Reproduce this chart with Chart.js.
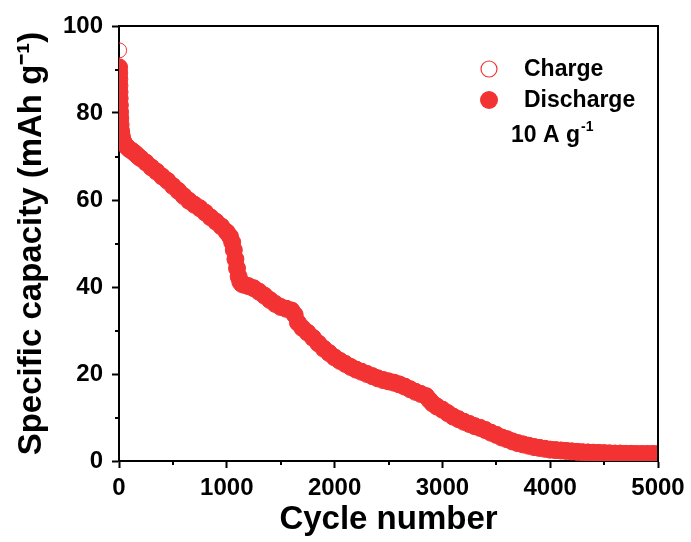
<!DOCTYPE html>
<html>
<head>
<meta charset="utf-8">
<script src="https://cdn.jsdelivr.net/npm/chart.js@4/dist/chart.umd.min.js"></script>
<style>
  html, body { margin: 0; padding: 0; background: #ffffff; }
  #wrap { width: 691px; height: 542px; }
</style>
</head>
<body>
<div id="wrap"><canvas id="c" width="691" height="542"></canvas></div>
<script>
// ---- data ----
const cycles = [1,2,3,4,5,6,8,10,12,15,20,25,30,40,50,75,100,125,150,175,200,250,300,350,400,450,500,550,600,650,700,750,800,850,900,950,1000,1030,1050,1065,1080,1095,1110,1125,1140,1160,1200,1250,1300,1350,1400,1450,1500,1550,1600,1630,1660,1700,1750,1800,1850,1900,1950,2000,2050,2100,2150,2200,2250,2300,2350,2400,2450,2500,2550,2600,2650,2700,2750,2800,2850,2880,2910,2950,3000,3050,3100,3150,3200,3250,3300,3350,3400,3450,3500,3550,3600,3650,3700,3750,3800,3850,3900,3950,4000,4050,4100,4150,4200,4250,4300,4350,4400,4450,4500,4550,4600,4650,4700,4750,4800,4850,4900,4950,5000];

const dischargeCapacity = [90.5,89.2,87.8,86.3,84.8,83.4,81.8,80.2,78.8,77.3,75.8,74.8,74.1,73.4,72.9,72.2,71.6,71.2,70.7,70.1,69.6,68.6,67.5,66.5,65.4,64.4,63.2,62.1,60.9,59.8,58.9,58.1,57.1,56.0,55.0,53.9,52.6,51.6,50.3,48.5,46.4,44.3,42.4,41.2,40.7,40.5,40.2,39.7,38.9,38.0,37.0,36.1,35.4,35.0,34.6,33.6,31.8,30.6,29.5,28.3,27.0,25.8,24.8,23.8,23.0,22.3,21.6,21.0,20.5,20.0,19.5,19.0,18.6,18.3,18.0,17.6,17.1,16.5,15.9,15.4,14.9,14.0,13.2,12.5,11.8,11.0,10.2,9.6,9.0,8.5,8.0,7.6,7.1,6.5,6.0,5.4,5.0,4.5,4.1,3.8,3.5,3.2,3.0,2.8,2.6,2.5,2.4,2.3,2.2,2.1,2.0,1.95,1.9,1.85,1.8,1.75,1.7,1.7,1.65,1.65,1.6,1.6,1.6,1.6,1.6];

const chargeCapacity = [94.4,89.4,88.0,86.5,85.0,83.6,82.0,80.4,79.0,77.5,76.0,75.0,74.3,73.6,73.1,72.4,71.8,71.4,70.9,70.3,69.8,68.8,67.7,66.7,65.6,64.6,63.4,62.3,61.1,60.0,59.1,58.3,57.3,56.2,55.2,54.1,52.8,51.8,50.5,48.7,46.6,44.5,42.6,41.4,40.9,40.7,40.4,39.9,39.1,38.2,37.2,36.3,35.6,35.2,34.8,33.8,32.0,30.8,29.7,28.5,27.2,26.0,25.0,24.0,23.2,22.5,21.8,21.2,20.7,20.2,19.7,19.2,18.8,18.5,18.2,17.8,17.3,16.7,16.1,15.6,15.1,14.2,13.4,12.7,12.0,11.2,10.4,9.8,9.2,8.7,8.2,7.8,7.3,6.7,6.2,5.6,5.2,4.7,4.3,4.0,3.7,3.4,3.2,3.0,2.8,2.7,2.6,2.5,2.4,2.3,2.2,2.15,2.1,2.05,2.0,1.95,1.9,1.9,1.85,1.85,1.8,1.8,1.8,1.8,1.8];

const xTicks = [0,1000,2000,3000,4000,5000];
const yTicks = [0,20,40,60,80,100];
const xMinorTicks = [500,1500,2500,3500,4500];
const yMinorTicks = [10,30,50,70,90];
const seriesNames = ['Charge','Discharge'];
const currentNote = ['10 A g', '-1'];

// ---- styles ----
const RED = 'rgb(243,51,51)';
const FONT = "'Liberation Sans', Arial, Helvetica, sans-serif";

const toPts = (ys) => cycles.map((x, i) => ({x: x, y: ys[i]}));

const framePlugin = {
  id: 'frameAndExtras',
  afterDraw(chart) {
    const ctx = chart.ctx;
    const a = chart.chartArea;
    const xs = chart.scales.x, ys = chart.scales.y;
    ctx.save();
    ctx.strokeStyle = '#000';
    ctx.lineWidth = 2;
    ctx.beginPath();
    ctx.moveTo(a.left - 1, a.top);
    ctx.lineTo(a.right, a.top);
    ctx.lineTo(a.right, a.bottom);
    ctx.stroke();
    ctx.beginPath();
    xMinorTicks.forEach(v => {
      const p = Math.round(xs.getPixelForValue(v));
      ctx.moveTo(p, a.bottom); ctx.lineTo(p, a.bottom + 4);
    });
    yMinorTicks.forEach(v => {
      const p = Math.round(ys.getPixelForValue(v));
      ctx.moveTo(a.left, p); ctx.lineTo(a.left - 4, p);
    });
    ctx.stroke();

    // legend
    const lx = a.left + 370, ly1 = a.top + 43, ly2 = a.top + 74;
    ctx.lineWidth = 1.2;
    ctx.strokeStyle = RED;
    ctx.beginPath(); ctx.arc(lx, ly1, 8, 0, Math.PI * 2); ctx.stroke();
    ctx.fillStyle = RED;
    ctx.beginPath(); ctx.arc(lx, ly2, 9, 0, Math.PI * 2); ctx.fill();
    ctx.fillStyle = '#000';
    ctx.font = 'bold 23px ' + FONT;
    ctx.textBaseline = 'middle';
    ctx.textAlign = 'left';
    ctx.fillText(seriesNames[0], lx + 35, ly1 + 1);
    ctx.fillText(seriesNames[1], lx + 35, ly2 + 1);
    const ny = a.top + 110;
    ctx.fillText(currentNote[0], lx + 22, ny);
    const w = ctx.measureText(currentNote[0]).width;
    ctx.font = 'bold 14px ' + FONT;
    ctx.fillText(currentNote[1], lx + 22 + w + 1, ny - 9);
    ctx.restore();
  }
};

new Chart(document.getElementById('c'), {
  type: 'scatter',
  data: {
    datasets: [
      {
        label: seriesNames[0],
        data: toPts(chargeCapacity),
        pointRadius: 7.5,
        pointHoverRadius: 7.5,
        pointBorderWidth: 1,
        pointBorderColor: RED,
        pointBackgroundColor: 'rgba(255,255,255,0)',
        showLine: false,
        clip: {left: 0, top: 0, right: 0, bottom: 0},
        order: 2
      },
      {
        label: seriesNames[1],
        data: toPts(dischargeCapacity),
        pointRadius: 8.5,
        pointHoverRadius: 8.5,
        pointBorderWidth: 1,
        pointBorderColor: RED,
        pointBackgroundColor: RED,
        showLine: false,
        clip: {left: 0, top: 0, right: 0, bottom: 0},
        order: 1
      }
    ]
  },
  options: {
    responsive: false,
    animation: false,
    devicePixelRatio: 1,
    layout: { padding: { top: 26, right: 33, bottom: 0, left: 0 } },
    plugins: { legend: { display: false }, tooltip: { enabled: false } },
    scales: {
      x: {
        type: 'linear',
        min: 0, max: 5000,
        z: 1,
        afterFit(s) { s.height = 81; },
        afterBuildTicks(s) { s.ticks = xTicks.map(v => ({value: v})); },
        ticks: { color: '#000', font: { family: FONT, size: 24, weight: 'bold' }, padding: 6, maxRotation: 0, callback: (v) => String(v) },
        grid: { drawOnChartArea: false, drawTicks: true, tickLength: 7, tickWidth: 2, tickColor: '#000' },
        border: { display: true, color: '#000', width: 2 },
        title: { display: true, text: 'Cycle number', color: '#000', font: { family: FONT, size: 33, weight: 'bold' }, padding: { top: 0, bottom: 2 } }
      },
      y: {
        type: 'linear',
        min: 0, max: 100,
        z: 1,
        afterFit(s) { s.width = 119; },
        afterBuildTicks(s) { s.ticks = yTicks.map(v => ({value: v})); },
        ticks: { color: '#000', font: { family: FONT, size: 24, weight: 'bold' }, padding: 9, callback: (v) => String(v) },
        grid: { drawOnChartArea: false, drawTicks: true, tickLength: 7, tickWidth: 2, tickColor: '#000' },
        border: { display: true, color: '#000', width: 2 },
        title: { display: true, text: 'Specific capacity (mAh g\u207B\u00B9)', color: '#000', font: { family: FONT, size: 33, weight: 'bold' }, padding: { top: 12, bottom: 0 } }
      }
    }
  },
  plugins: [framePlugin]
});
</script>
</body>
</html>
